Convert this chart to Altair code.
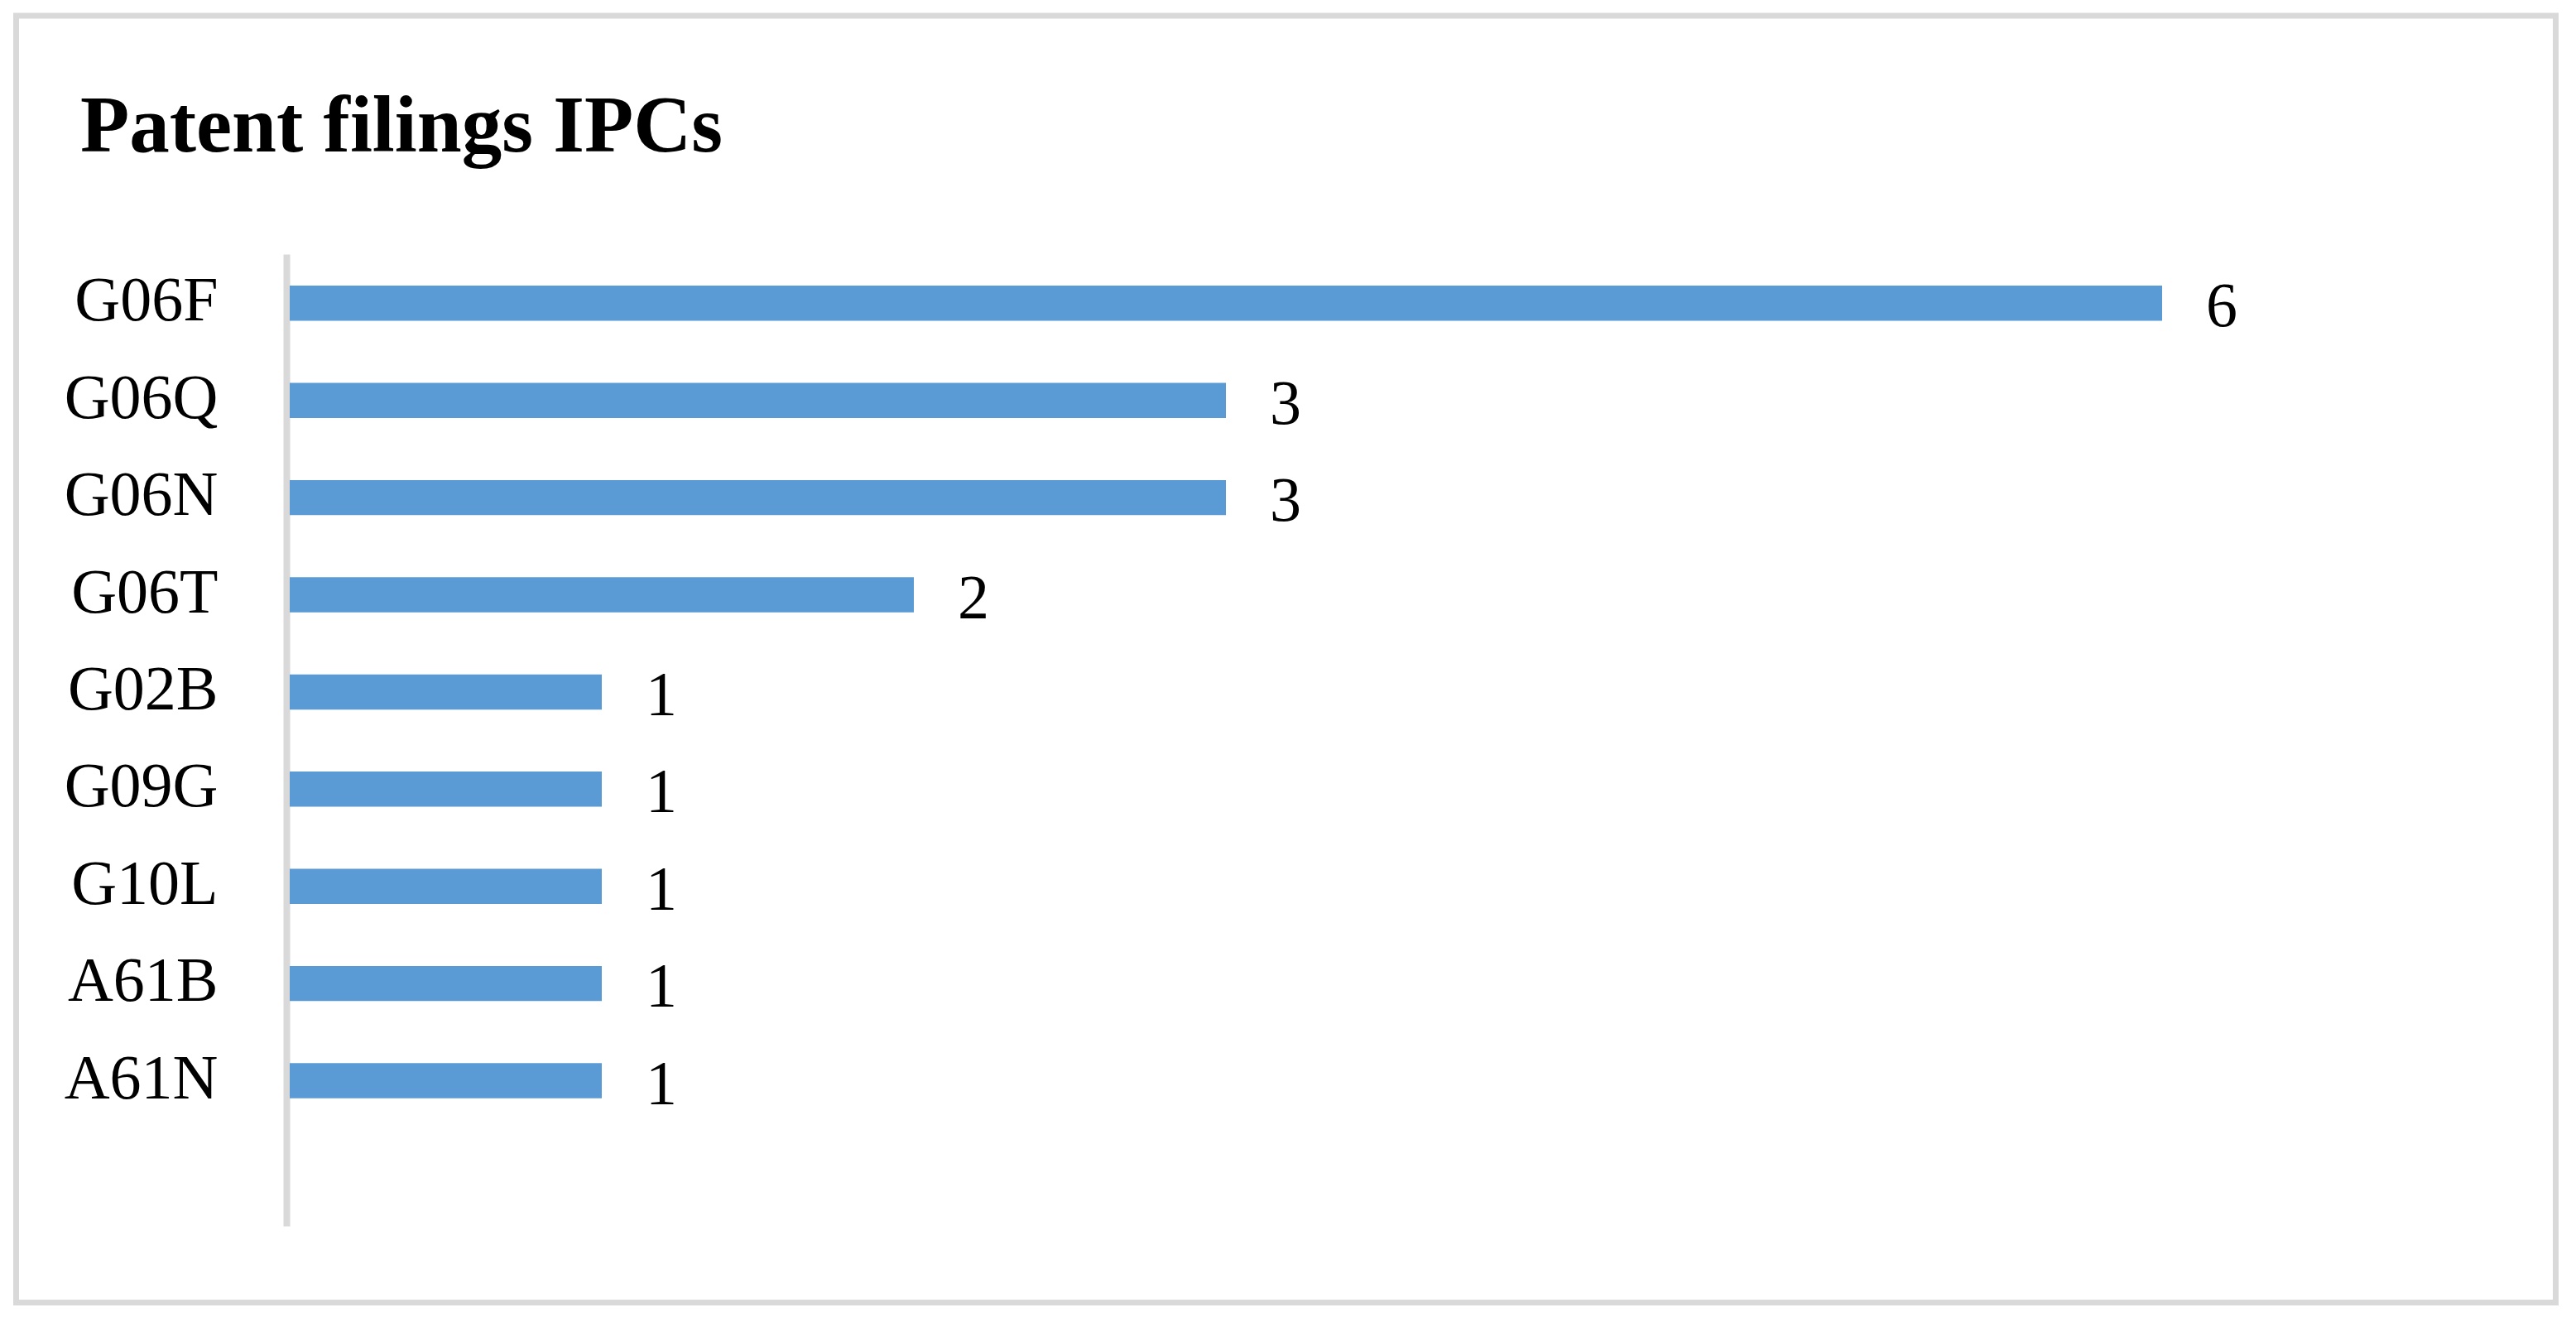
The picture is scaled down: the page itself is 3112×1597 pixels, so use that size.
import altair as alt
import pandas as pd

title_text = "Patent filings IPCs"
categories = ["G06F", "G06Q", "G06N", "G06T", "G02B", "G09G", "G10L", "A61B", "A61N"]
counts = [6, 3, 3, 2, 1, 1, 1, 1, 1]

df = pd.DataFrame({"ipc": categories, "count": counts})

W, H = 2639, 1174
FONT = "Liberation Serif"
BLUE = "#5b9bd5"
GRAY = "#d9d9d9"

y_enc = alt.Y(
    "ipc:N",
    sort=categories,
    scale=alt.Scale(domain=categories, paddingInner=0.638, paddingOuter=0.819,
                    align=0.198, round=False),
    axis=alt.Axis(title=None, ticks=False, domainColor=GRAY, domainWidth=8,
                  offset=4, labelFont=FONT, labelFontSize=76, labelColor="#000000",
                  labelPadding=83, grid=False, labelOffset=-2, labelLimit=0),
)
x_enc = alt.X("count:Q", scale=alt.Scale(domain=[0, 7], nice=False, zero=True), axis=None)

bars = alt.Chart(df).mark_bar(color=BLUE).encode(x=x_enc, y=y_enc)

values = alt.Chart(df).mark_text(
    align="left", baseline="middle", dx=53, dy=5, font=FONT, fontSize=76, color="#000000"
).encode(x=x_enc, y=y_enc, text="count:Q")

border = alt.Chart(pd.DataFrame({"k": [0]})).mark_rect(
    fillOpacity=0, stroke=GRAY, strokeWidth=7
).encode(x=alt.value(-330.5), x2=alt.value(2737.5), y=alt.value(-288), y2=alt.value(1266.5))

title = alt.Chart(pd.DataFrame({"t": [title_text]})).mark_text(
    align="left", baseline="alphabetic", font=FONT, fontSize=97, fontWeight="bold",
    color="#000000"
).encode(x=alt.value(-253), y=alt.value(-124), text="t:N")

chart = alt.layer(border, bars, values, title).properties(
    width=W, height=H,
    padding={"left": 342, "top": 299, "right": 106, "bottom": 99},
    autosize=alt.AutoSizeParams(type="none"),
).configure_view(strokeWidth=0)

chart.save("out.html", embed_options={"renderer": "svg", "actions": False})
